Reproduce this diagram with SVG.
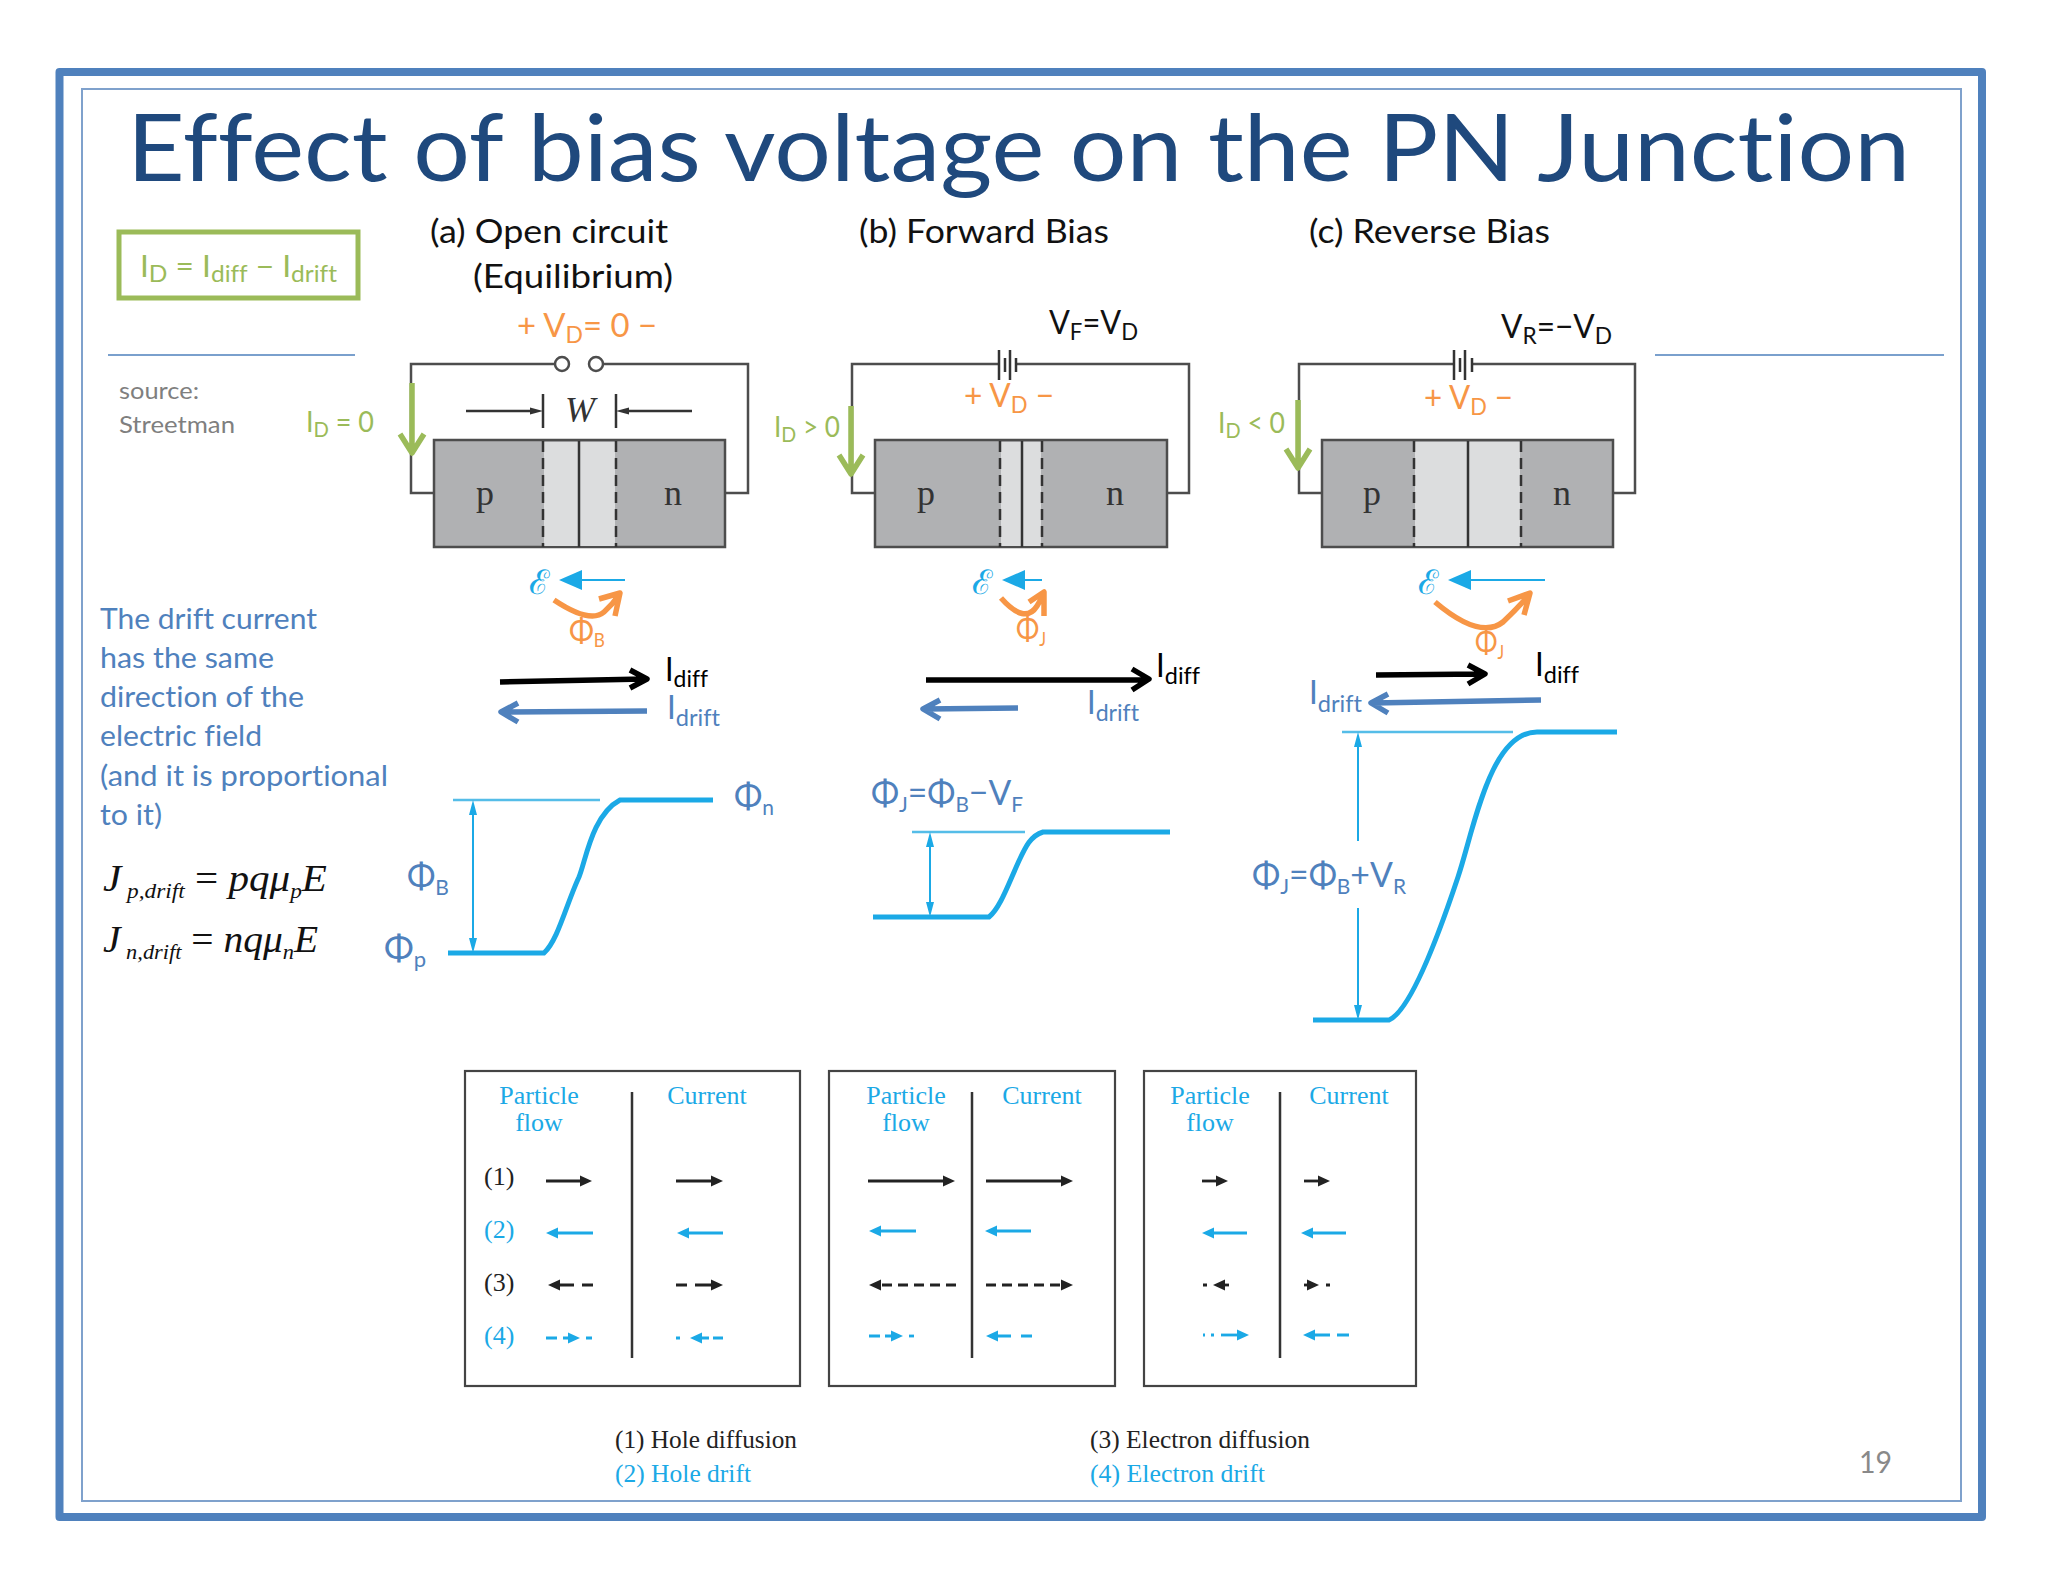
<svg xmlns="http://www.w3.org/2000/svg" width="2048" height="1582" viewBox="0 0 2048 1582">
<style>
text{font-family:Lato,"Open Sans","Noto Sans",sans-serif;font-variant-ligatures:none}
.h{font-size:32px;fill:#111}
.org{fill:#F79646;font-size:33px}
.grn{fill:#9BBB59;font-size:28px}
.blu{fill:#4F81BD;font-size:28px}
.phi{fill:#4F81BD;font-size:34px}
.gry{fill:#7F7F7F;font-size:24px}
.i{font-size:32px}
.s{font-size:24px}
.tm{font-family:"Liberation Serif","Times New Roman",serif}
.tb{font-size:26px;fill:#222}
.tc{font-size:26px;fill:#1BA9E6}
.pn{font-size:36px;fill:#333;text-anchor:middle}
.eq{font-size:37px;fill:#111;font-style:italic}
.w{fill:none;stroke:#4D4D4D;stroke-width:2.5}
.box{fill:#B0B1B3;stroke:#4D4D4D;stroke-width:2.5}
.dep{fill:#DCDDDE;stroke:none}
.dash{stroke:#333;stroke-width:2.5;stroke-dasharray:11 6;fill:none}
.ln{stroke:#333;stroke-width:2.5;fill:none}
.gr{fill:none;stroke:#9BBB59;stroke-width:5.5;stroke-linejoin:round}
.or{fill:none;stroke:#F79646;stroke-width:5.5;stroke-linejoin:round}
.cy{fill:none;stroke:#1BA9E6;stroke-width:2}
.cyt{fill:none;stroke:#1BA9E6;stroke-width:5}
.cym{fill:none;stroke:#55BDE8;stroke-width:2.5}
.k{fill:none;stroke:#222;stroke-width:2.8}
.c{fill:none;stroke:#1BA9E6;stroke-width:2.8}
.bk{fill:none;stroke:#000;stroke-width:5.5;stroke-linejoin:round}
.bb{fill:none;stroke:#4F81BD;stroke-width:5.5;stroke-linejoin:round}
</style>
<defs>
<marker id="hk" markerUnits="userSpaceOnUse" markerWidth="13" markerHeight="13" refX="0" refY="6.5" orient="auto"><path d="M0 1L12 6.5L0 12z" fill="#222"/></marker>
<marker id="hc" markerUnits="userSpaceOnUse" markerWidth="13" markerHeight="13" refX="0" refY="6.5" orient="auto"><path d="M0 1L12 6.5L0 12z" fill="#1BA9E6"/></marker>
<marker id="hd" markerUnits="userSpaceOnUse" markerWidth="14" markerHeight="10" refX="0" refY="5" orient="auto"><path d="M0 1.5L13 5L0 8.5z" fill="#333"/></marker>
</defs>
<rect width="2048" height="1582" fill="#fff"/>
<g id="frame">
<rect x="59.5" y="72" width="1922.5" height="1445" fill="none" stroke="#4F81BD" stroke-width="8" stroke-linejoin="round"/>
<rect x="82" y="89" width="1879" height="1412" fill="none" stroke="#7FA1CC" stroke-width="2"/>
<path d="M108 355H355M1655 355H1944" stroke="#4F81BD" stroke-width="1.5" fill="none"/>
</g>
<text id="title" x="127" y="181" font-size="94" fill="#1F497D" textLength="1783" lengthAdjust="spacingAndGlyphs">Effect of bias voltage on the PN Junction</text>
<g id="id-box">
<rect x="119" y="232" width="239" height="66" fill="none" stroke="#9BBB59" stroke-width="5"/>
<text x="140" y="277" fill="#9BBB59" font-size="31" textLength="197" lengthAdjust="spacingAndGlyphs">I<tspan dy="5" font-size="24">D</tspan><tspan dy="-5"> = I</tspan><tspan dy="5" font-size="24">diff</tspan><tspan dy="-5"> − I</tspan><tspan dy="5" font-size="24">drift</tspan></text>
</g>
<g id="source"><text class="gry" x="119" y="399" textLength="80" lengthAdjust="spacingAndGlyphs">source:</text><text class="gry" x="119" y="433" textLength="116" lengthAdjust="spacingAndGlyphs">Streetman</text></g>
<g id="drift-note">
<text class="blu" x="100" y="629" textLength="217" lengthAdjust="spacingAndGlyphs">The drift current</text>
<text class="blu" x="100" y="668" textLength="174" lengthAdjust="spacingAndGlyphs">has the same</text>
<text class="blu" x="100" y="707" textLength="204" lengthAdjust="spacingAndGlyphs">direction of the</text>
<text class="blu" x="100" y="746" textLength="162" lengthAdjust="spacingAndGlyphs">electric field</text>
<text class="blu" x="100" y="786" textLength="288" lengthAdjust="spacingAndGlyphs">(and it is proportional</text>
<text class="blu" x="100" y="825" textLength="62" lengthAdjust="spacingAndGlyphs">to it)</text>
</g>
<g id="equations">
<text class="eq tm" x="103" y="891" textLength="224" lengthAdjust="spacingAndGlyphs">J<tspan dy="7" font-size="21"> p,drift</tspan><tspan dy="-7" font-style="normal"> = </tspan>pqμ<tspan dy="7" font-size="21">p</tspan><tspan dy="-7">E</tspan></text>
<text class="eq tm" x="103" y="952" textLength="215" lengthAdjust="spacingAndGlyphs">J<tspan dy="7" font-size="21"> n,drift</tspan><tspan dy="-7" font-style="normal"> = </tspan>nqμ<tspan dy="7" font-size="21">n</tspan><tspan dy="-7">E</tspan></text>
</g>
<g id="panel-a">
<text class="h" x="430" y="243" textLength="238" lengthAdjust="spacingAndGlyphs">(a) Open circuit</text>
<text class="h" x="473" y="288" textLength="200" lengthAdjust="spacingAndGlyphs">(Equilibrium)</text>
<text class="org" x="517" y="337" textLength="140" lengthAdjust="spacingAndGlyphs">+ V<tspan dy="6" font-size="23">D</tspan><tspan dy="-6">= 0 −</tspan></text>
<path class="w" d="M555 364H411V493H434M603 364H748V493H725"/>
<circle class="w" cx="562" cy="364" r="7"/><circle class="w" cx="596" cy="364" r="7"/>
<rect class="box" x="434" y="440" width="291" height="107"/>
<rect class="dep" x="544" y="442" width="71" height="104"/>
<path class="dash" d="M543 441V547M616 441V547"/><path class="ln" d="M579 441V547"/>
<path class="ln" d="M543 394V428M616 394V428"/>
<path class="ln" marker-end="url(#hd)" d="M466 411H530"/><path class="ln" marker-end="url(#hd)" d="M692 411H629"/>
<text class="tm" x="580" y="422" font-size="36" font-style="italic" fill="#333" text-anchor="middle">W</text>
<text class="pn tm" x="485" y="505">p</text><text class="pn tm" x="673" y="505">n</text>
<text class="grn" x="306" y="432" textLength="68" lengthAdjust="spacingAndGlyphs">I<tspan dy="5" font-size="21">D</tspan><tspan dy="-5"> = 0</tspan></text>
</g>
<g id="panel-b">
<text class="h" x="859" y="243" textLength="250" lengthAdjust="spacingAndGlyphs">(b) Forward Bias</text>
<text class="h" x="1049" y="334" textLength="89" lengthAdjust="spacingAndGlyphs">V<tspan dy="6" font-size="23">F</tspan><tspan dy="-6">=V</tspan><tspan dy="6" font-size="23">D</tspan></text>
<path class="w" d="M999 364H852V493H875M1016 364H1189V493H1167"/>
<path class="ln" d="M999 350V380M1005 358V372M1010 350V380M1016 358V372"/>
<text class="org" x="964" y="407" textLength="90" lengthAdjust="spacingAndGlyphs">+ V<tspan dy="6" font-size="23">D</tspan><tspan dy="-6"> −</tspan></text>
<rect class="box" x="875" y="440" width="292" height="107"/>
<rect class="dep" x="1001" y="442" width="40" height="104"/>
<path class="dash" d="M1000 441V547M1042 441V547"/><path class="ln" d="M1022 441V547"/>
<text class="pn tm" x="926" y="505">p</text><text class="pn tm" x="1115" y="505">n</text>
<text class="grn" x="774" y="437" textLength="66" lengthAdjust="spacingAndGlyphs">I<tspan dy="5" font-size="21">D</tspan><tspan dy="-5"> &gt; 0</tspan></text>
</g>
<g id="panel-c">
<text class="h" x="1309" y="243" textLength="241" lengthAdjust="spacingAndGlyphs">(c) Reverse Bias</text>
<text class="h" x="1501" y="338" textLength="111" lengthAdjust="spacingAndGlyphs">V<tspan dy="6" font-size="23">R</tspan><tspan dy="-6">=−V</tspan><tspan dy="6" font-size="23">D</tspan></text>
<path class="w" d="M1454 364H1299V493H1322M1472 364H1635V493H1613"/>
<path class="ln" d="M1454 350V380M1460 358V372M1465 350V380M1472 358V372"/>
<text class="org" x="1424" y="409" textLength="89" lengthAdjust="spacingAndGlyphs">+ V<tspan dy="6" font-size="23">D</tspan><tspan dy="-6"> −</tspan></text>
<rect class="box" x="1322" y="440" width="291" height="107"/>
<rect class="dep" x="1415" y="442" width="105" height="104"/>
<path class="dash" d="M1414 441V547M1521 441V547"/><path class="ln" d="M1468 441V547"/>
<text class="pn tm" x="1372" y="505">p</text><text class="pn tm" x="1562" y="505">n</text>
<text class="grn" x="1218" y="433" textLength="67" lengthAdjust="spacingAndGlyphs">I<tspan dy="5" font-size="21">D</tspan><tspan dy="-5"> &lt; 0</tspan></text>
</g>
<g id="connectors">
<path class="gr" d="M412 383V453M400 434L412 453L424 434"/>
<path class="gr" d="M851 406V474M839 455L851 474L863 455"/>
<path class="gr" d="M1298 400V468M1286 449L1298 468L1310 449"/>
<path class="cy" stroke-width="2.5" d="M625 580H575"/><path fill="#1BA9E6" d="M559 580L582 570V590z"/>
<path class="cy" stroke-width="2.5" d="M1042 580H1015"/><path fill="#1BA9E6" d="M1002 580L1025 570V590z"/>
<path class="cy" stroke-width="2.5" d="M1545 580H1460"/><path fill="#1BA9E6" d="M1448 580L1471 570V590z"/>
<path class="or" d="M554 600Q590 624 604 612Q612 605 619 595M599 599L620 593L615 616"/>
<path class="or" d="M1001 598Q1025 625 1037 606Q1041 600 1043 594M1029 602L1044 592L1044 616"/>
<path class="or" d="M1435 602Q1480 640 1503 622Q1518 608 1529 595M1508 601L1530 593L1524 615"/>
<path class="bk" d="M500 682L645 679M630 670L647 679L630 688"/>
<path class="bk" d="M926 680L1147 680M1132 669L1149 679L1132 690"/>
<path class="bk" d="M1376 675L1483 674M1468 665L1485 674L1468 684"/>
<path class="bb" d="M647 711L503 712M518 703L501 712L518 722"/>
<path class="bb" d="M1018 708L925 709M940 700L923 709L940 719"/>
<path class="bb" d="M1541 700L1373 703M1388 694L1371 703L1388 713"/>
</g>
<g id="field-labels">
<text x="539" y="594" font-size="34" fill="#1BA9E6" text-anchor="middle" class="tm">ℰ</text>
<text x="982" y="594" font-size="34" fill="#1BA9E6" text-anchor="middle" class="tm">ℰ</text>
<text x="1428" y="594" font-size="34" fill="#1BA9E6" text-anchor="middle" class="tm">ℰ</text>
<text class="org" x="569" y="642" font-size="30" textLength="36" lengthAdjust="spacingAndGlyphs">Φ<tspan dy="5" font-size="19">B</tspan></text>
<text class="org" x="1016" y="640" textLength="30" lengthAdjust="spacingAndGlyphs">Φ<tspan dy="6" font-size="19">J</tspan></text>
<text class="org" x="1475" y="653" textLength="29" lengthAdjust="spacingAndGlyphs">Φ<tspan dy="6" font-size="19">J</tspan></text>
<text class="i" x="665" y="681" fill="#000" textLength="43" lengthAdjust="spacingAndGlyphs">I<tspan dy="6" class="s">diff</tspan></text>
<text class="i" x="1156" y="677" fill="#000" textLength="44" lengthAdjust="spacingAndGlyphs">I<tspan dy="7" class="s">diff</tspan></text>
<text class="i" x="1535" y="676" fill="#000" textLength="44" lengthAdjust="spacingAndGlyphs">I<tspan dy="7" class="s">diff</tspan></text>
<text class="i" x="667" y="719" fill="#4F81BD" textLength="53" lengthAdjust="spacingAndGlyphs">I<tspan dy="7" class="s">drift</tspan></text>
<text class="i" x="1087" y="714" fill="#4F81BD" textLength="52" lengthAdjust="spacingAndGlyphs">I<tspan dy="7" class="s">drift</tspan></text>
<text class="i" x="1309" y="704" fill="#4F81BD" textLength="53" lengthAdjust="spacingAndGlyphs">I<tspan dy="8" class="s">drift</tspan></text>
</g>
<g id="bands">
<path class="cym" d="M453 800H600M912 832H1025M1342 732H1513"/>
<path class="cyt" d="M448 953H544C558 940 566 905 579 877C586 860 592 815 620 800H713"/>
<path class="cyt" d="M873 917H989C1000 908 1008 885 1018 863C1025 848 1030 836 1043 832H1170"/>
<path class="cyt" d="M1313 1020H1389C1412 1010 1442 925 1458 877C1474 829 1490 732 1537 732H1617"/>
<path fill="#1BA9E6" d="M473 800L469 815H477zM473 953L469 938H477zM930 832L926 847H934zM930 917L926 902H934zM1358 732L1354 747H1362zM1358 1020L1354 1005H1362z"/>
<path class="cy" d="M473 812V941M930 840V910M1358 740V841M1358 908V1012"/>
<text class="phi" x="734" y="808" textLength="40" lengthAdjust="spacingAndGlyphs">Φ<tspan dy="7" font-size="21">n</tspan></text>
<text class="phi" x="407" y="888" textLength="42" lengthAdjust="spacingAndGlyphs">Φ<tspan dy="7" font-size="21">B</tspan></text>
<text class="phi" x="384" y="960" textLength="42" lengthAdjust="spacingAndGlyphs">Φ<tspan dy="7" font-size="21">p</tspan></text>
<text class="phi" x="871" y="805" textLength="152" lengthAdjust="spacingAndGlyphs">Φ<tspan dy="7" font-size="21">J</tspan><tspan dy="-7">=Φ</tspan><tspan dy="7" font-size="21">B</tspan><tspan dy="-7">−V</tspan><tspan dy="7" font-size="21">F</tspan></text>
<text class="phi" x="1252" y="887" textLength="154" lengthAdjust="spacingAndGlyphs">Φ<tspan dy="7" font-size="21">J</tspan><tspan dy="-7">=Φ</tspan><tspan dy="7" font-size="21">B</tspan><tspan dy="-7">+V</tspan><tspan dy="7" font-size="21">R</tspan></text>
</g>
<g id="table-1">
<rect x="465" y="1071" width="335" height="315" fill="none" stroke="#444" stroke-width="2.2"/>
<path class="ln" d="M632 1092V1358"/>
<text class="tm tc" x="539" y="1104" text-anchor="middle">Particle</text><text class="tm tc" x="539" y="1131" text-anchor="middle">flow</text>
<text class="tm tc" x="707" y="1104" text-anchor="middle">Current</text>
<text class="tm tb" x="484" y="1185">(1)</text><text class="tm tc" x="484" y="1238">(2)</text><text class="tm tb" x="484" y="1291">(3)</text><text class="tm tc" x="484" y="1344">(4)</text>
<path class="k" marker-end="url(#hk)" d="M546 1181H580"/><path class="k" marker-end="url(#hk)" d="M676 1181H711"/>
<path class="c" marker-end="url(#hc)" d="M593 1233H558"/><path class="c" marker-end="url(#hc)" d="M723 1233H689"/>
<path class="k" marker-end="url(#hk)" d="M593 1285H582M574 1285H560"/><path class="k" marker-end="url(#hk)" d="M676 1285H687M695 1285H711"/>
<path class="c" marker-end="url(#hc)" d="M546 1338H557M563 1338H568"/><path class="c" d="M586 1338H592M676 1338H680"/><path class="c" marker-end="url(#hc)" d="M723 1338H713M709 1338H702"/>
</g>
<g id="table-2">
<rect x="829" y="1071" width="286" height="315" fill="none" stroke="#444" stroke-width="2.2"/>
<path class="ln" d="M972 1092V1358"/>
<text class="tm tc" x="906" y="1104" text-anchor="middle">Particle</text><text class="tm tc" x="906" y="1131" text-anchor="middle">flow</text>
<text class="tm tc" x="1042" y="1104" text-anchor="middle">Current</text>
<path class="k" marker-end="url(#hk)" d="M868 1181H943"/><path class="k" marker-end="url(#hk)" d="M986 1181H1061"/>
<path class="c" marker-end="url(#hc)" d="M916 1231H881"/><path class="c" marker-end="url(#hc)" d="M1031 1231H997"/>
<path class="k" stroke-dasharray="10 6" marker-end="url(#hk)" d="M956 1285H881"/><path class="k" stroke-dasharray="10 6" marker-end="url(#hk)" d="M986 1285H1061"/>
<path class="c" marker-end="url(#hc)" d="M869 1336H880M885 1336H891"/><path class="c" d="M909 1336H914"/><path class="c" marker-end="url(#hc)" d="M1032 1336H1021M1011 1336H998"/>
</g>
<g id="table-3">
<rect x="1144" y="1071" width="272" height="315" fill="none" stroke="#444" stroke-width="2.2"/>
<path class="ln" d="M1280 1092V1358"/>
<text class="tm tc" x="1210" y="1104" text-anchor="middle">Particle</text><text class="tm tc" x="1210" y="1131" text-anchor="middle">flow</text>
<text class="tm tc" x="1349" y="1104" text-anchor="middle">Current</text>
<path class="k" marker-end="url(#hk)" d="M1202 1181H1216"/><path class="k" marker-end="url(#hk)" d="M1304 1181H1318"/>
<path class="c" marker-end="url(#hc)" d="M1247 1233H1214"/><path class="c" marker-end="url(#hc)" d="M1346 1233H1313"/>
<path class="k" marker-end="url(#hk)" d="M1229 1285H1225"/><path class="k" d="M1203 1285H1207M1326 1285H1330"/><path class="k" marker-end="url(#hk)" d="M1304 1285H1307"/>
<path class="c" marker-end="url(#hc)" d="M1221 1335H1237"/><path class="c" d="M1203 1335H1205M1211 1335H1214"/><path class="c" marker-end="url(#hc)" d="M1349 1335H1337M1330 1335H1315"/>
</g>
<g id="legend">
<text class="tm tb" x="615" y="1448" textLength="182" lengthAdjust="spacingAndGlyphs">(1) Hole diffusion</text>
<text class="tm tc" x="615" y="1482" textLength="136" lengthAdjust="spacingAndGlyphs">(2) Hole drift</text>
<text class="tm tb" x="1090" y="1448" textLength="220" lengthAdjust="spacingAndGlyphs">(3) Electron diffusion</text>
<text class="tm tc" x="1090" y="1482" textLength="175" lengthAdjust="spacingAndGlyphs">(4) Electron drift</text>
</g>
<text id="page-number" x="1859" y="1473" font-size="30" fill="#898989" textLength="33" lengthAdjust="spacingAndGlyphs">19</text>
</svg>
